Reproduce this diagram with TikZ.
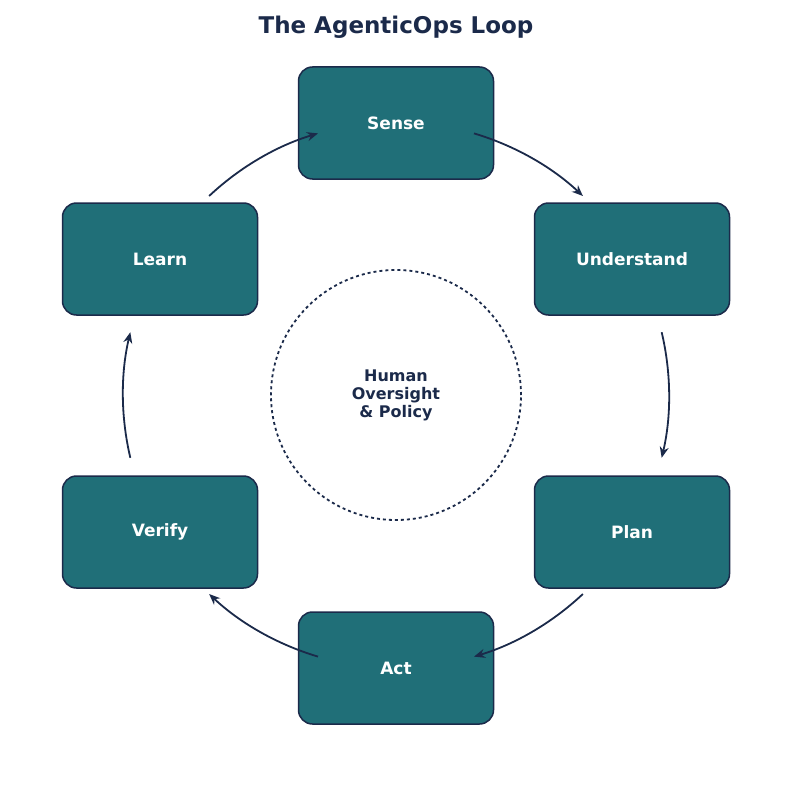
\documentclass[tikz,border=0pt]{standalone}
\usepackage{fontspec}
\setmainfont{DejaVu Sans}
\usetikzlibrary{arrows.meta}
\definecolor{navy}{HTML}{1B2A4A}
\definecolor{teal}{HTML}{206F78}
\begin{document}
\begin{tikzpicture}[x=1pt,y=-1pt,
  stagebox/.style={draw=navy,line width=1.5pt,fill=teal,rounded corners=14pt,minimum width=195pt,minimum height=112pt,text=white,font=\bfseries\fontsize{17}{20}\selectfont},
  flow/.style={draw=navy,line width=1.8pt,-{Stealth[length=11pt,width=9pt]}}]
\useasboundingbox (0,0) rectangle (792,792);
\node[font=\bfseries\fontsize{23}{27}\selectfont,text=navy] (title) at (396,27) {The AgenticOps Loop};
\node[stagebox] (sense) at (396,123) {Sense};
\node[stagebox] (understand) at (632,259) {Understand};
\node[stagebox] (plan) at (632,532) {Plan};
\node[stagebox] (act) at (396,668) {Act};
\node[stagebox] (verify) at (160,532) {Verify};
\node[stagebox] (learn) at (160,259) {Learn};
\node[draw=navy,dashed,line width=1.8pt,circle,minimum size=250pt,text=navy,align=center,font=\bfseries\fontsize{16}{18}\selectfont] (core) at (396,395) {Human\\Oversight\\\& Policy};
\coordinate (c) at (396,395);
\begin{scope}[y=1pt]
\foreach \a/\b in {73.4/46.8, 13.3/-13.3, -46.8/-73.4, -106.6/-133.2, -166.7/-193.3, 133.2/106.6}
  \draw[flow] ([shift={(\a:273)}]c) arc[start angle=\a,end angle=\b,radius=273];
\end{scope}
\end{tikzpicture}
\end{document}
